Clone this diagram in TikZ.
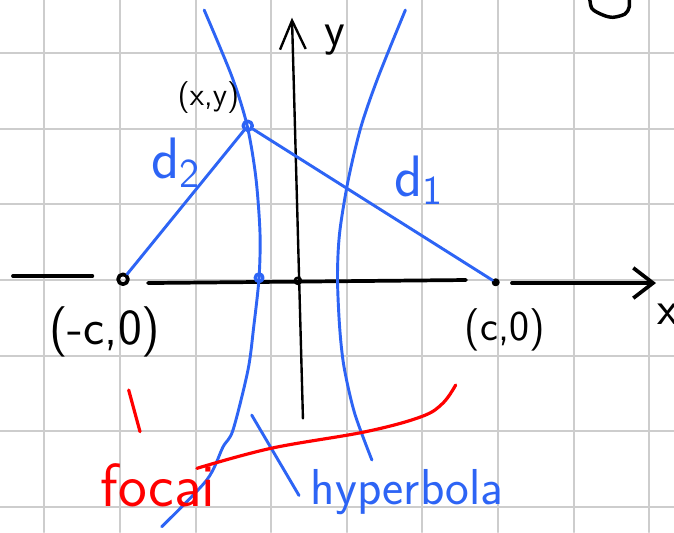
\documentclass[tikz,border=0pt]{standalone}
\usetikzlibrary{arrows.meta}
\definecolor{penblue}{RGB}{45,100,245}
\definecolor{gridgray}{RGB}{205,205,205}
\begin{document}
\begin{tikzpicture}[line cap=round, line join=round, gridline/.style={gridgray, line width=0.8pt}, axis/.style={black, line width=1.4pt}, pen/.style={penblue, line width=1.1pt}, redpen/.style={red, line width=1.2pt}, dot_node/.style={circle, draw, line width=1pt, inner sep=0pt, minimum size=0.1cm}, hand/.style={font=\sffamily\fontsize{#1}{#1}\selectfont, inner sep=0pt}]
				\useasboundingbox (-0.587,-3.333) rectangle (8.328,3.704);
				\fill[white] (-0.587,-3.333) rectangle (8.328,3.704);
				\draw[gridline] (-0.587,-3.333) grid (8.328,3.704);
				\coordinate (ybot) at (3.42,-1.83);
				\coordinate (ytop) at (3.275,3.47);
				\draw[axis, line width=0.9pt, -{Straight Barb[length=3.8mm,width=3.4mm]}] (ybot) -- (ytop);
				\coordinate (xa) at (-0.415,0.053);
				\coordinate (xb) at (0.635,0.053);
				\coordinate (xc) at (1.37,-0.04);
				\coordinate (xd) at (5.577,0);
				\coordinate (xe) at (6.185,-0.04);
				\coordinate (xf) at (8.09,-0.04);
				\draw[axis] (xa) -- (xb);
				\draw[axis] (xc) -- (xd);
				\draw[axis, -{Straight Barb[length=2.6mm,width=4mm]}] (xe) -- (xf);
				\draw[pen] plot[smooth] coordinates {(2.114,3.571) (2.481,2.689) (2.680,2.050) (2.796,1.366) (2.852,0.622) (2.839,0.026) (2.769,-0.618) (2.693,-1.190) (2.495,-1.984) (2.362,-2.209) (2.147,-2.646) (1.552,-3.263)};
				\draw[pen] plot[smooth] coordinates {(4.775,3.571) (4.417,2.689) (4.188,2.028) (4.019,1.323) (3.905,0.622) (3.877,0.044) (3.905,-0.618) (3.963,-1.147) (4.104,-1.763) (4.332,-2.381)};
				\node[dot_node, line width=1.4pt, minimum size=0.13cm] (F2) at (1.04,0.01) {};
				\node[dot_node, fill=black, minimum size=0.07cm] (F1) at (5.97,-0.03) {};
				\node[dot_node, minimum size=0.08cm] (O) at (3.353,-0.01) {};
				\node[dot_node, penblue, line width=1.3pt, minimum size=0.1cm] (V) at (2.84,0.03) {};
				\node[dot_node, penblue, line width=1.3pt, minimum size=0.12cm] (P) at (2.69,2.04) {};
				\draw[pen] (F2) -- (P);
				\draw[pen] (P) -- (F1);
				\node[hand=12] (Plabel) at (2.17,2.42) {(x,y)};
				\node[hand=22, penblue] (d2) at (1.74,1.55) {d\textsubscript{2}};
				\node[hand=22, penblue] (d1) at (4.955,1.32) {d\textsubscript{1}};
				\node[hand=19] (F2label) at (0.80,-0.69) {(-c,0)};
				\node[hand=16] (F1label) at (6.09,-0.66) {(c,0)};
				\node[hand=18] (ylabel) at (3.844,3.175) {y};
				\node[hand=18, anchor=west] (xlabel) at (8.10,-0.45) {x};
				\node[hand=19, penblue] (hyp) at (4.80,-2.80) {hyperbola};
				\node[hand=23, red] (foci) at (1.503,-2.72) {focai};
				\coordinate (hypend) at (2.742,-1.786);
				\draw[pen] ([xshift=-1.5mm,yshift=-0.5mm]hyp.west) -- (hypend);
				\coordinate (tickA) at (1.265,-2.006);
				\coordinate (tickB) at (1.115,-1.455);
				\draw[redpen] (tickA) -- (tickB);
				\draw[redpen] plot[smooth, tension=0.6] coordinates {(2.018,-2.491) (2.997,-2.226) (4.246,-2.007) (4.985,-1.808) (5.27,-1.63) (5.440,-1.389)};
				\draw[axis, line width=1.3pt] plot[smooth] coordinates {(7.21,3.78) (7.24,3.594) (7.389,3.505) (7.521,3.475) (7.68,3.519) (7.737,3.616) (7.73,3.78)};
			\end{tikzpicture}
\end{document}
